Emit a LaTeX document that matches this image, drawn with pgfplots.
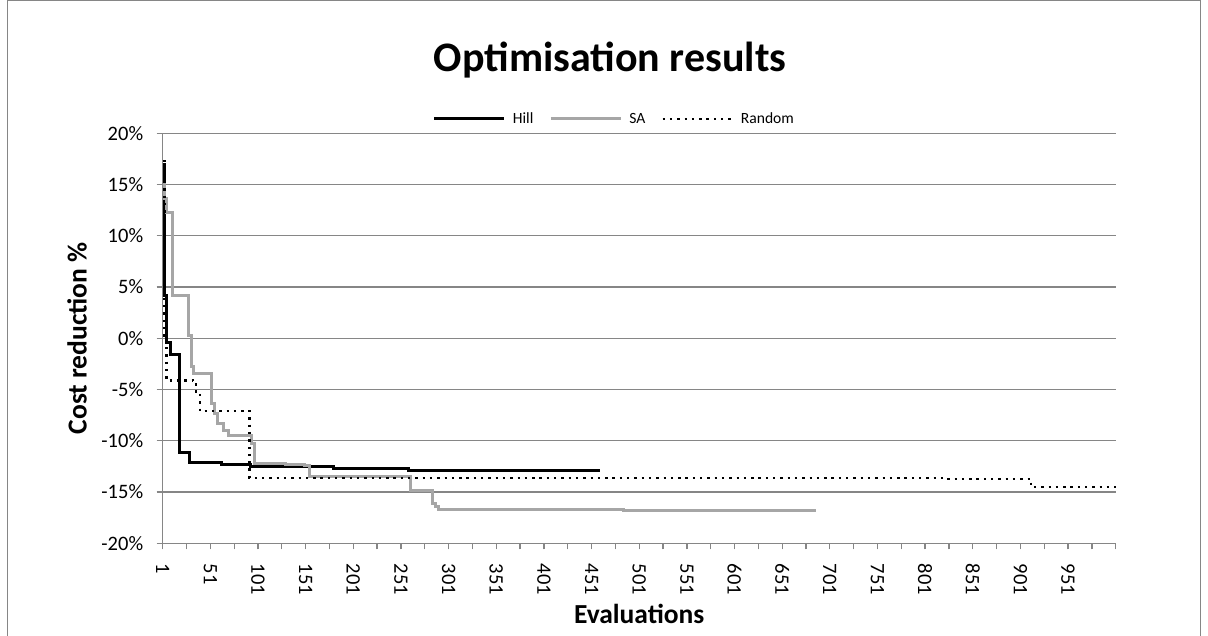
\documentclass[border=0pt]{standalone}
\usepackage{fontspec}
\setmainfont{Carlito}
\usepackage{pgfplots}
\pgfplotsset{compat=1.18}
\definecolor{gridgray}{RGB}{134,134,134}
\definecolor{sagray}{RGB}{166,166,166}
\begin{document}
\begin{tikzpicture}[x=1pt,y=1pt]
\useasboundingbox (0,0) rectangle (1208,635);
\fill[white] (0,0) rectangle (1208,635);
\draw[gridgray, line width=1.3pt] (7.5,-10) rectangle (1200.5,634.3);
\node[font=\fontsize{42}{50}\selectfont\bfseries, anchor=base] at (610,563.3) {Optimisation results};
\begin{axis}[
  scale only axis, width=953pt, height=410pt,
  at={(162.7pt,91.7pt)}, anchor=south west,
  xmin=1, xmax=1001, ymin=-20, ymax=20,
  axis lines*=left,
  axis line style={gridgray, line width=1.3pt},
  tick style={gridgray, line width=1.3pt},
  major tick length=6pt, minor tick length=6pt,
  tick align=outside,
  xtick={1,51,...,951},
  xticklabels={1,51,101,151,201,251,301,351,401,451,501,551,601,651,701,751,801,851,901,951},
  minor xtick={26,76,...,976,1001},
  ytick={-20,-15,...,20},
  yticklabels={-20\%,-15\%,-10\%,-5\%,0\%,5\%,10\%,15\%,20\%},
  ymajorgrids,
  major grid style={gridgray, line width=1.3pt},
  xticklabel shift=11pt,
  yticklabel shift=10pt,
  xticklabel style={rotate=-90, anchor=west, font=\fontsize{20.5}{24}\selectfont},
  yticklabel style={anchor=east, font=\fontsize{20.5}{24}\selectfont},
  xlabel={Evaluations},
  ylabel={Cost reduction \%},
  xlabel style={at={(axis description cs:0.5,0)}, anchor=base, yshift=-79.7pt, font=\fontsize{27.5}{32}\selectfont\bfseries},
  ylabel style={at={(axis description cs:-0.0899,0.5)}, anchor=center, font=\fontsize{27.5}{32}\selectfont\bfseries},
  clip=false,
  legend columns=3,
  legend image code/.code={\draw[#1] (0pt,0pt) -- (70pt,0pt);},
  legend style={at={(0.474,1.035)}, anchor=center, draw=none, fill=none,
    font=\fontsize{15.6}{18}\selectfont, cells={anchor=west},
    /tikz/every odd column/.append style={column sep=5pt},
    /tikz/every even column/.append style={column sep=14pt}},
]
\addplot[const plot, black, line width=3pt] coordinates {
(1,17.0) (3,4.2) (5,-0.4) (9,-1.6) (19,-11.1) (29,-12.1) (63,-12.3) (93,-12.5) (180,-12.7) (259,-12.9) (460,-12.9)};
\addlegendentry{Hill}
\addplot[const plot, sagray, line width=3pt] coordinates {
(1,15.0) (3,13.6) (5,12.3) (11,4.2) (28,0.3) (31,-2.8) (33,-3.4) (52,-6.4) (55,-7.3) (59,-8.3) (65,-9.0) (70,-9.5) (94,-10.3) (97,-12.2) (130,-12.3) (150,-12.4) (155,-13.5) (261,-14.8) (284,-16.1) (287,-16.4) (290,-16.7) (485,-16.8) (686,-16.8)};
\addlegendentry{SA}
\addplot[const plot, black, line width=2.4pt, dash pattern=on 2.4pt off 4.9pt] coordinates {
(1,17.3) (3,-0.2) (5,-4.1) (33,-4.5) (36,-5.2) (40,-7.1) (92,-13.6) (821,-13.7) (912,-14.5) (1001,-14.5)};
\addlegendentry{Random}
\end{axis}
\end{tikzpicture}
\end{document}
